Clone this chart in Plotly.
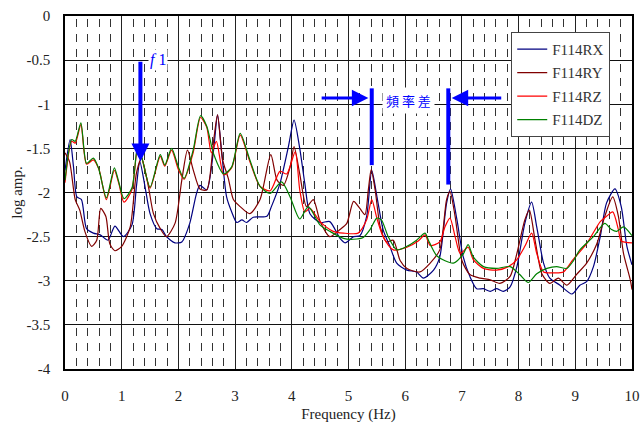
import plotly.graph_objects as go

# ---------------- data ----------------
freq_rx = [0.00, 0.09, 0.15, 0.21, 0.29, 0.38, 0.50, 0.62, 0.76, 0.88, 1.03, 1.18, 1.26, 1.32, 1.41, 1.50,
           1.62, 1.71, 1.79, 1.94, 2.06, 2.20, 2.32, 2.38, 2.50, 2.62, 2.69, 2.76, 2.85, 2.94, 3.03,
           3.12, 3.20, 3.32, 3.56, 3.64, 3.79, 3.94, 4.04, 4.14, 4.23, 4.32, 4.50, 4.67, 4.85, 4.94,
           5.09, 5.20, 5.32, 5.41, 5.50, 5.61, 5.73, 5.85, 6.03, 6.20, 6.32, 6.50, 6.61, 6.73, 6.80,
           6.91, 7.02, 7.14, 7.26, 7.38, 7.50, 7.61, 7.73, 7.85, 7.97, 8.11, 8.23, 8.32, 8.44, 8.55,
           8.73, 8.94, 9.08, 9.20, 9.32, 9.44, 9.55, 9.70, 9.81, 9.91, 10.00]
amp_rx = [-1.75, -1.40, -1.71, -2.05, -2.08, -2.41, -2.46, -2.48, -2.54, -2.38, -2.50, -2.37, -1.93, -1.65, -1.93, -2.24,
          -2.41, -2.42, -2.50, -2.57, -2.56, -2.35, -2.01, -1.92, -1.97, -1.52, -1.12, -1.52, -2.05, -2.22, -2.34,
          -2.31, -2.34, -2.28, -2.27, -2.16, -1.90, -1.48, -1.18, -1.50, -1.90, -2.24, -2.34, -2.33, -2.52, -2.57,
          -2.50, -2.49, -2.27, -1.75, -2.04, -2.42, -2.61, -2.80, -2.88, -2.90, -2.97, -2.88, -2.73, -2.12, -1.96,
          -2.30, -2.72, -2.95, -3.09, -3.09, -3.12, -3.09, -3.12, -3.07, -2.84, -2.35, -2.11, -2.39, -2.80, -2.97,
          -3.05, -3.15, -3.05, -3.01, -2.84, -2.50, -2.12, -1.96, -2.16, -2.61, -2.82]

freq_ry = [0.00, 0.08, 0.18, 0.26, 0.35, 0.47, 0.56, 0.63, 0.72, 0.79, 0.88, 1.00, 1.15, 1.26, 1.35, 1.47,
           1.56, 1.68, 1.79, 1.94, 2.06, 2.16, 2.26, 2.38, 2.50, 2.62, 2.69, 2.78, 2.88, 2.97, 3.09,
           3.26, 3.44, 3.63, 3.74, 3.85, 3.97, 4.04, 4.14, 4.26, 4.38, 4.50, 4.67, 4.85, 4.97, 5.09,
           5.20, 5.29, 5.35, 5.40, 5.47, 5.56, 5.67, 5.79, 5.91, 6.03, 6.26, 6.44, 6.61, 6.73, 6.79,
           6.88, 7.00, 7.14, 7.32, 7.50, 7.67, 7.85, 7.97, 8.11, 8.19, 8.29, 8.41, 8.55, 8.70, 8.85,
           9.02, 9.20, 9.38, 9.52, 9.66, 9.76, 9.85, 9.97, 10.00]
amp_ry = [-1.55, -1.65, -2.08, -2.20, -2.44, -2.61, -2.54, -2.18, -2.27, -2.58, -2.66, -2.61, -2.39, -1.78, -1.61, -1.93,
          -2.24, -2.41, -2.50, -2.35, -1.86, -1.52, -1.74, -1.96, -1.97, -1.42, -1.12, -1.63, -1.84, -2.08, -2.16,
          -2.24, -2.08, -1.57, -1.86, -1.92, -1.71, -1.48, -1.79, -2.16, -2.08, -2.33, -2.50, -2.42, -2.35, -2.10,
          -2.18, -2.25, -1.97, -1.74, -1.97, -2.39, -2.56, -2.54, -2.77, -2.86, -2.90, -2.80, -2.65, -2.08, -1.99,
          -2.27, -2.77, -2.93, -2.97, -2.99, -3.03, -2.95, -2.69, -2.31, -2.20, -2.54, -2.92, -3.03, -2.97, -3.05,
          -2.93, -2.80, -2.58, -2.27, -2.05, -2.27, -2.69, -2.99, -3.10]

freq_rz = [0.00, 0.12, 0.18, 0.28, 0.38, 0.50, 0.60, 0.73, 0.87, 0.95, 1.04, 1.18, 1.28, 1.36, 1.50, 1.68,
           1.76, 1.88, 2.00, 2.10, 2.26, 2.39, 2.50, 2.58, 2.67, 2.80, 2.94, 3.09, 3.26, 3.44, 3.62,
           3.79, 3.91, 4.06, 4.14, 4.23, 4.32, 4.50, 4.73, 4.91, 5.17, 5.32, 5.41, 5.50, 5.61, 5.79,
           6.03, 6.23, 6.35, 6.44, 6.61, 6.70, 6.79, 6.88, 6.97, 7.11, 7.20, 7.38, 7.61, 7.82, 7.97,
           8.11, 8.23, 8.32, 8.44, 8.61, 8.79, 8.96, 9.20, 9.44, 9.55, 9.66, 9.76, 9.81, 10.00]
amp_rz = [-1.89, -1.42, -1.44, -1.23, -1.68, -1.63, -1.74, -2.08, -1.75, -1.90, -2.11, -1.97, -1.51, -1.62, -1.95, -1.59,
          -1.70, -1.52, -1.74, -1.85, -1.55, -1.15, -1.26, -1.55, -1.42, -1.80, -1.72, -1.35, -1.65, -1.93, -1.98,
          -1.76, -1.79, -1.54, -1.97, -2.22, -2.18, -2.33, -2.44, -2.46, -2.46, -2.31, -2.08, -2.29, -2.50, -2.65,
          -2.62, -2.55, -2.48, -2.60, -2.56, -2.39, -2.29, -2.50, -2.69, -2.62, -2.76, -2.86, -2.88, -2.84, -2.76,
          -2.61, -2.46, -2.69, -2.90, -2.91, -2.90, -2.76, -2.58, -2.33, -2.27, -2.22, -2.42, -2.55, -2.57]

freq_dz = [0.00, 0.12, 0.18, 0.28, 0.38, 0.50, 0.59, 0.73, 0.87, 0.94, 1.04, 1.18, 1.28, 1.35, 1.50, 1.68,
           1.76, 1.88, 2.00, 2.10, 2.26, 2.39, 2.50, 2.62, 2.80, 2.94, 3.09, 3.26, 3.44, 3.62, 3.82,
           3.97, 4.14, 4.29, 4.50, 4.67, 4.91, 5.09, 5.26, 5.38, 5.50, 5.58, 5.70, 5.85, 6.03, 6.20,
           6.35, 6.41, 6.56, 6.85, 7.02, 7.11, 7.20, 7.38, 7.61, 7.85, 8.02, 8.17, 8.32, 8.50, 8.67,
           8.85, 8.96, 9.08, 9.32, 9.52, 9.64, 9.73, 9.85, 10.00]
amp_dz = [-1.86, -1.40, -1.42, -1.21, -1.67, -1.61, -1.72, -2.06, -1.72, -1.86, -2.07, -1.95, -1.48, -1.59, -1.94, -1.57,
          -1.69, -1.50, -1.71, -1.84, -1.52, -1.13, -1.25, -1.56, -1.79, -1.71, -1.33, -1.63, -1.93, -2.01, -1.88,
          -2.05, -2.30, -2.16, -2.37, -2.44, -2.52, -2.53, -2.51, -2.42, -2.29, -2.31, -2.50, -2.65, -2.61, -2.54,
          -2.46, -2.54, -2.72, -2.80, -2.70, -2.59, -2.73, -2.84, -2.86, -2.84, -2.93, -3.02, -2.92, -2.86, -2.84,
          -2.86, -2.78, -2.65, -2.50, -2.35, -2.42, -2.44, -2.39, -2.49]

series_names = ["F114RX", "F114RY", "F114RZ", "F114DZ"]
series_colors = ["#000080", "#800000", "#FF0000", "#008000"]

x_ticks = [0, 1, 2, 3, 4, 5, 6, 7, 8, 9, 10]
y_ticks = [0, -0.5, -1, -1.5, -2, -2.5, -3, -3.5, -4]

# annotation anchors (data units)
f1_arrow_x, f1_arrow_top, f1_arrow_tip = 1.33, -0.5, -1.65
f1_label_x, f1_label_y = 1.64, -0.5
diff_left_x, diff_right_x = 5.41, 6.76
diff_top = -0.82
diff_left_bottom, diff_right_bottom = -1.69, -1.91
diff_arrow_y = -0.93
diff_left_tail, diff_right_tail = 4.50, 7.72
diff_label_x, diff_label_y = 6.05, -0.96

SERIF = "Liberation Serif, Times New Roman, serif"
BLUE = "#0000FF"

fig = go.Figure()
xs = [freq_rx, freq_ry, freq_rz, freq_dz]
ys = [amp_rx, amp_ry, amp_rz, amp_dz]
for i in range(4):
    fig.add_trace(go.Scatter(
        x=xs[i], y=ys[i], mode="lines", name=series_names[i],
        line=dict(color=series_colors[i], width=1.2, shape="spline", smoothing=0.7),
        legendgroup=series_names[i],
    ))

# f1 arrow
fig.add_annotation(x=f1_arrow_x, y=f1_arrow_tip, ax=f1_arrow_x, ay=f1_arrow_top,
                   xref="x", yref="y", axref="x", ayref="y", text="",
                   showarrow=True, arrowhead=2, arrowsize=0.9, arrowwidth=4, arrowcolor=BLUE)
fig.add_annotation(x=f1_label_x, y=f1_label_y, xref="x", yref="y", text="<i>f</i> 1",
                   showarrow=False, font=dict(family=SERIF, size=16, color=BLUE),
                   bgcolor="white", borderpad=1)

# frequency difference markers
fig.add_shape(type="line", x0=diff_left_x, x1=diff_left_x, y0=diff_top, y1=diff_left_bottom,
              xref="x", yref="y", line=dict(color=BLUE, width=4))
fig.add_shape(type="line", x0=diff_right_x, x1=diff_right_x, y0=diff_top, y1=diff_right_bottom,
              xref="x", yref="y", line=dict(color=BLUE, width=4))
fig.add_annotation(x=diff_left_x - 0.06, y=diff_arrow_y, ax=diff_left_tail, ay=diff_arrow_y,
                   xref="x", yref="y", axref="x", ayref="y", text="",
                   showarrow=True, arrowhead=2, arrowsize=1.1, arrowwidth=3, arrowcolor=BLUE)
fig.add_annotation(x=diff_right_x + 0.06, y=diff_arrow_y, ax=diff_right_tail, ay=diff_arrow_y,
                   xref="x", yref="y", axref="x", ayref="y", text="",
                   showarrow=True, arrowhead=2, arrowsize=1.1, arrowwidth=3, arrowcolor=BLUE)
fig.add_annotation(x=diff_label_x, y=diff_label_y, xref="x", yref="y", text="頻 率 差",
                   showarrow=False, font=dict(family="Noto Sans CJK TC", size=13, color=BLUE),
                   bgcolor="white", borderpad=3)

fig.update_layout(
    width=640, height=425,
    margin=dict(l=65, r=8, t=16, b=56, autoexpand=False),
    paper_bgcolor="white", plot_bgcolor="white",
    font=dict(family=SERIF, size=15, color="#222222"),
    showlegend=True,
    legend=dict(x=0.787, y=0.955, xanchor="left", yanchor="top",
                bgcolor="white", bordercolor="#444444", borderwidth=1,
                font=dict(family=SERIF, size=15, color="#333333"),
                tracegroupgap=1, traceorder="grouped", itemwidth=30),
    xaxis=dict(range=[0, 10], tickvals=x_ticks, ticktext=[str(v) for v in x_ticks],
               automargin=False,
               showgrid=True, gridcolor="#222222", gridwidth=1,
               showline=True, linecolor="black", linewidth=1.5, mirror=True,
               zeroline=False, ticks="", ticklabelstandoff=12,
               minor=dict(dtick=0.2, showgrid=True, gridcolor="#333333", gridwidth=1,
                          griddash="0px,3.4px,8px,3.3px"),
               title=dict(text="Frequency (Hz)", font=dict(family=SERIF, size=15, color="#222222"),
                          standoff=6)),
    yaxis=dict(range=[-4, 0], tickvals=y_ticks, ticktext=[f"{v:g}" for v in y_ticks],
               automargin=False,
               showgrid=True, gridcolor="#111111", gridwidth=1,
               showline=True, linecolor="black", linewidth=1.5, mirror=True,
               zeroline=False, ticks="", ticklabelstandoff=10,
               title=dict(text="log amp.", font=dict(family=SERIF, size=15, color="#222222"),
                          standoff=0)),
)

fig.write_html("out.html")
